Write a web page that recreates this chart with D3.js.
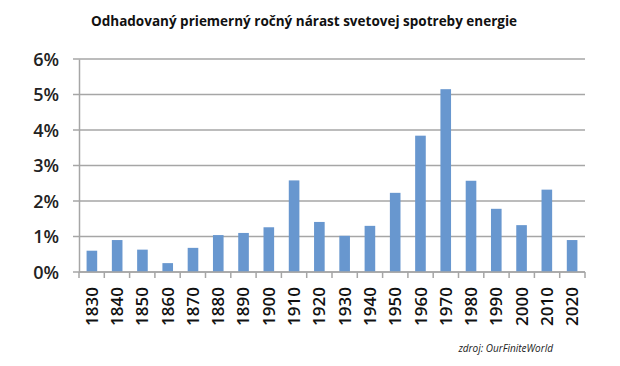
<!DOCTYPE html>
<html>
<head>
<meta charset="utf-8">
<style>
 body { margin: 0; background: #fff; }
 svg { font-family: "Open Sans", "DejaVu Sans", sans-serif; }
 .title { font-size: 13.5px; font-weight: bold; fill: #111; }
 .src { font-size: 10px; font-style: italic; fill: #222; }
 .yax text { font-family: "Open Sans", sans-serif; font-size: 18px; font-weight: 600; fill: #222; }
 .xax text { font-family: "Open Sans", sans-serif; font-size: 17px; font-weight: 600; fill: #111; }
</style>
</head>
<body>
<svg width="620" height="366"></svg>
<script src="https://d3js.org/d3.v7.min.js"></script>
<script>
var years = ["1830","1840","1850","1860","1870","1880","1890","1900","1910","1920",
             "1930","1940","1950","1960","1970","1980","1990","2000","2010","2020"];
var growth = [0.6, 0.9, 0.63, 0.25, 0.68, 1.04, 1.1, 1.26, 2.58, 1.41,
              1.02, 1.3, 2.23, 3.84, 5.15, 2.57, 1.78, 1.32, 2.32, 0.9];
var yTicks = [0, 1, 2, 3, 4, 5, 6];

var svg = d3.select("svg");
var pLeft = 79, pRight = 585, pTop = 59, pBottom = 272;

var x = d3.scaleBand().domain(years).range([pLeft, pRight]).paddingInner(0.58).paddingOuter(0.3);
var y = d3.scaleLinear().domain([0, 6]).range([pBottom, pTop]);

// gridlines
svg.append("g").selectAll("line").data(yTicks).enter().append("line")
    .attr("x1", pLeft - 6).attr("x2", pRight)
    .attr("y1", function(d){ return y(d); }).attr("y2", function(d){ return y(d); })
    .attr("stroke", "#a6a6a6").attr("stroke-width", 1.5);

// bars
svg.append("g").selectAll("rect").data(growth).enter().append("rect")
    .attr("x", function(d, i){ return x(years[i]); })
    .attr("width", x.bandwidth())
    .attr("y", function(d){ return y(d); })
    .attr("height", function(d){ return pBottom - y(d); })
    .attr("fill", "#6897cf");

// y axis
var yAxis = d3.axisLeft(y).tickValues(yTicks).tickSize(0).tickPadding(20)
    .tickFormat(function(d){ return d + "%"; });
var yg = svg.append("g").attr("class", "yax").attr("transform", "translate(" + pLeft + ",0)").call(yAxis);
yg.select(".domain").attr("stroke", "#a6a6a6").attr("stroke-width", 1.5);
yg.selectAll("text").attr("dy", "0.36em");

// x axis ticks at band boundaries
var bounds = d3.range(years.length + 1).map(function(i){ return pLeft + i * (pRight - pLeft) / years.length; });
svg.append("g").selectAll("line").data(bounds).enter().append("line")
    .attr("x1", function(d){ return d; }).attr("x2", function(d){ return d; })
    .attr("y1", pBottom).attr("y2", pBottom + 6)
    .attr("stroke", "#a6a6a6").attr("stroke-width", 1.5);
svg.append("line").attr("x1", pLeft).attr("x2", pRight).attr("y1", pBottom).attr("y2", pBottom)
    .attr("stroke", "#a6a6a6").attr("stroke-width", 1.5);

var xc = d3.scaleBand().domain(years).range([pLeft, pRight]);
svg.append("g").attr("class", "xax").selectAll("text").data(years).enter().append("text")
    .attr("transform", function(d){ return "translate(" + (xc(d) + xc.bandwidth() / 2 + 6) + ",287) rotate(-90)"; })
    .attr("text-anchor", "end")
    .text(function(d){ return d; });

svg.append("text").attr("class", "title").attr("x", 304).attr("y", 26)
    .attr("text-anchor", "middle")
    .text("Odhadovaný priemerný ročný nárast svetovej spotreby energie");

svg.append("text").attr("class", "src").attr("x", 553).attr("y", 352)
    .attr("text-anchor", "end").text("zdroj: OurFiniteWorld");
</script>
</body>
</html>
